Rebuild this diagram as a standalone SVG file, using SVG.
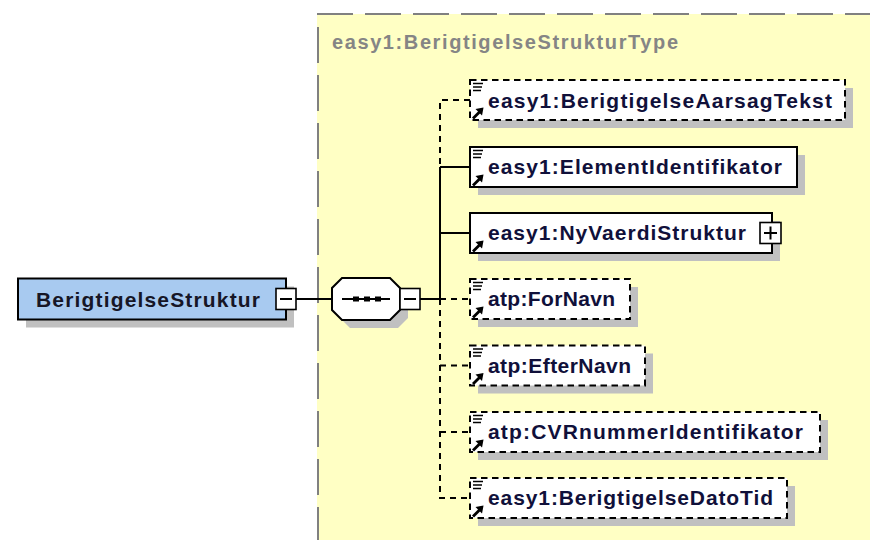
<svg xmlns="http://www.w3.org/2000/svg" xmlns:xlink="http://www.w3.org/1999/xlink" width="870" height="540" viewBox="0 0 870 540">
<style>
.lbl{font-family:"Liberation Sans",Arial,sans-serif;font-weight:bold;font-size:21px;fill:#10103a}
.main{fill:#161626}
.type{font-family:"Liberation Sans",Arial,sans-serif;font-weight:bold;font-size:20px;fill:#858585}
.box{fill:#fff;stroke:#000;stroke-width:2}
.opt{stroke-dasharray:6.5 4.5}
.sh{fill:#c0c0c0}
.conn{stroke:#000;stroke-width:2;fill:none}
.dash{stroke-dasharray:6 5}
.btn{fill:#fff;stroke:#000;stroke-width:1.6}
.ico{stroke:#000;stroke-width:1.6;fill:none}
</style>
<defs>
<g id="doc"><path class="ico" d="M4 3.5h10M4 7h9M4 10.5h8"/></g>
<g id="arr"><path d="M4 38.5L10.5 32" stroke="#000" stroke-width="2.8"/><path d="M14.5 27.5L6.5 29L13 35.5Z" fill="#000"/></g>
</defs>
<rect x="317" y="14" width="553" height="526" fill="#ffffc4"/>
<path d="M317 14H870" stroke="#808080" stroke-width="2" stroke-dasharray="36 12"/>
<path d="M318 27V540" stroke="#808080" stroke-width="2" stroke-dasharray="36 12"/>
<text class="type" x="332" y="49" textLength="346" lengthAdjust="spacing">easy1:BerigtigelseStrukturType</text>
<g id="connectors">
<path class="conn" d="M296 299H332"/>
<path class="conn" d="M420 299H440"/>
<path class="conn" d="M440 167V299"/>
<path class="conn dash" d="M470 100H440V167"/>
<path class="conn dash" d="M440 299V498H470"/>
<path class="conn" d="M440 167H470"/>
<path class="conn" d="M440 233H470"/>
<path class="conn dash" d="M440 299H470"/>
<path class="conn dash" d="M440 365.5H470"/>
<path class="conn dash" d="M440 432H470"/>
</g>
<g id="node-main">
<rect class="sh" x="26" y="286.5" width="268" height="41"/>
<rect x="18" y="278.5" width="268" height="41" fill="#a8caf0" stroke="#000" stroke-width="2"/>
<text class="lbl main" x="36" y="306.5" textLength="224" lengthAdjust="spacing">BerigtigelseStruktur</text>
<rect class="btn" x="276" y="288.5" width="20" height="21"/>
<path d="M280 299H292" stroke="#000" stroke-width="2"/>
</g>
<g id="node-sequence">
<polygon class="sh" points="350,286 398,286 408,296 408,318 398,328 350,328 340,318 340,296"/>
<polygon points="342,278 390,278 400,288 400,310 390,320 342,320 332,310 332,288" fill="#fff" stroke="#000" stroke-width="2"/>
<path d="M342 299H390" stroke="#000" stroke-width="2"/>
<rect x="353" y="296.5" width="6" height="5"/>
<rect x="364" y="296.5" width="6" height="5"/>
<rect x="375" y="296.5" width="6" height="5"/>
<rect class="btn" x="400" y="288.5" width="20" height="21"/>
<path d="M404 299H416" stroke="#000" stroke-width="2"/>
</g>
<g id="node-aarsagtekst">
<rect class="sh" x="478" y="88" width="375" height="40"/>
<rect class="box opt" x="470" y="80" width="375" height="40"/>
<use xlink:href="#doc" x="469" y="80"/><use xlink:href="#arr" x="469" y="80"/>
<text class="lbl" x="488" y="107.5" textLength="344" lengthAdjust="spacing">easy1:BerigtigelseAarsagTekst</text>
</g>
<g id="node-elementidentifikator">
<rect class="sh" x="478" y="155" width="327" height="40"/>
<rect class="box" x="470" y="147" width="327" height="40"/>
<use xlink:href="#doc" x="469" y="147"/><use xlink:href="#arr" x="469" y="147"/>
<text class="lbl" x="488" y="174" textLength="294" lengthAdjust="spacing">easy1:ElementIdentifikator</text>
</g>
<g id="node-nyvaerdistruktur">
<rect class="sh" x="478" y="221" width="302" height="40"/>
<rect class="box" x="470" y="213" width="302" height="40"/>
<use xlink:href="#arr" x="469" y="213"/>
<text class="lbl" x="488" y="240" textLength="258" lengthAdjust="spacing">easy1:NyVaerdiStruktur</text>
<rect class="btn" x="760" y="222.5" width="21" height="21"/>
<path d="M764 233H777M770.5 226.5V239.5" stroke="#000" stroke-width="2"/>
</g>
<g id="node-fornavn">
<rect class="sh" x="478" y="287" width="160" height="40"/>
<rect class="box opt" x="470" y="279" width="160" height="40"/>
<use xlink:href="#doc" x="469" y="279"/><use xlink:href="#arr" x="469" y="279"/>
<text class="lbl" x="488" y="306" textLength="127" lengthAdjust="spacing">atp:ForNavn</text>
</g>
<g id="node-efternavn">
<rect class="sh" x="478" y="353.5" width="175" height="40"/>
<rect class="box opt" x="470" y="345.5" width="175" height="40"/>
<use xlink:href="#doc" x="469" y="345.5"/><use xlink:href="#arr" x="469" y="345.5"/>
<text class="lbl" x="488" y="372.5" textLength="143" lengthAdjust="spacing">atp:EfterNavn</text>
</g>
<g id="node-cvrnummer">
<rect class="sh" x="478" y="420" width="350" height="40"/>
<rect class="box opt" x="470" y="412" width="350" height="40"/>
<use xlink:href="#doc" x="469" y="412"/><use xlink:href="#arr" x="469" y="412"/>
<text class="lbl" x="488" y="439" textLength="315" lengthAdjust="spacing">atp:CVRnummerIdentifikator</text>
</g>
<g id="node-datotid">
<rect class="sh" x="478" y="486" width="317" height="40"/>
<rect class="box opt" x="470" y="478" width="317" height="40"/>
<use xlink:href="#doc" x="469" y="478"/><use xlink:href="#arr" x="469" y="478"/>
<text class="lbl" x="488" y="505" textLength="285" lengthAdjust="spacing">easy1:BerigtigelseDatoTid</text>
</g>
</svg>
